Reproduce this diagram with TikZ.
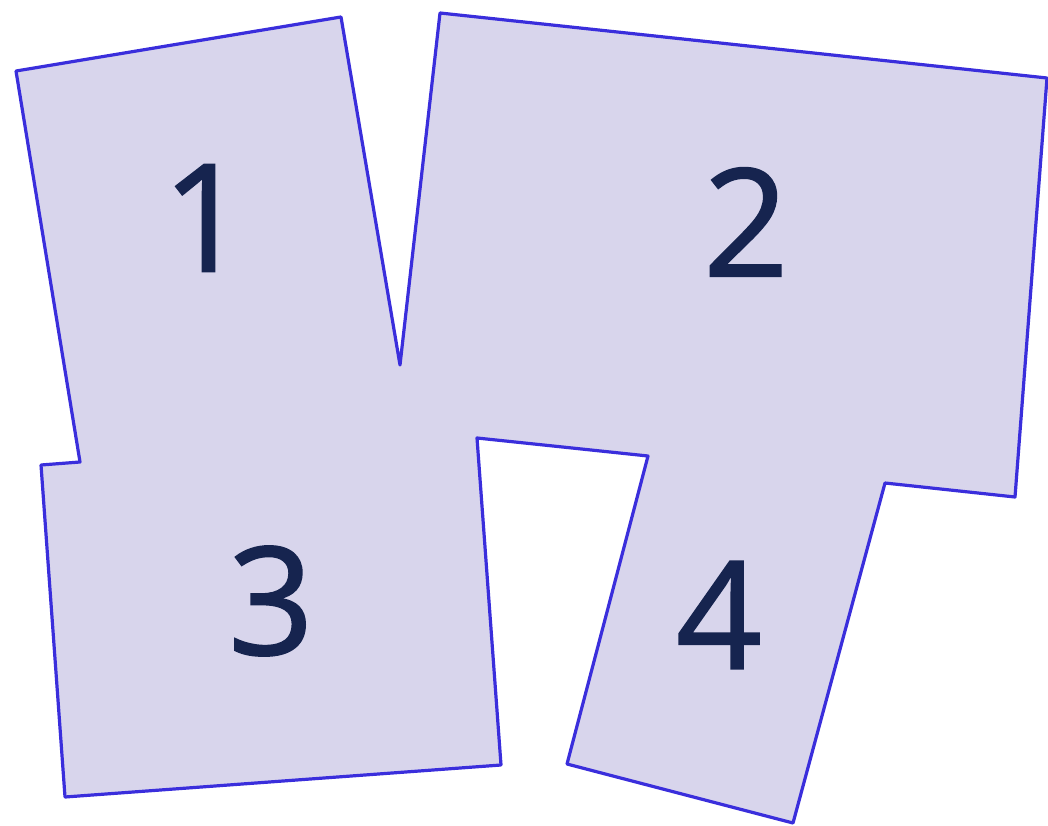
\documentclass[tikz,border=0pt]{standalone}
\usepackage{fontspec}
\setmainfont{Open Sans}
\newfontfamily\numfont{Open Sans}[FakeBold=1.2]
\definecolor{fillc}{HTML}{D8D5EC}
\definecolor{linec}{HTML}{3A2EDC}
\definecolor{numc}{HTML}{16244F}
\begin{document}
\begin{tikzpicture}[x=1pt,y=-1pt,
  region/.style={fill=fillc,draw=linec,line width=3.2pt,line join=round},
  num/.style={text=numc,font=\numfont\fontsize{150}{150}\selectfont,inner sep=0pt}]
\useasboundingbox (0,0) rectangle (1048,826);
\coordinate (p1) at (16,71);
\coordinate (p2) at (341,17);
\coordinate (p3) at (400,365);
\coordinate (p4) at (440,13);
\coordinate (p5) at (1047,78);
\coordinate (p6) at (1015,497);
\coordinate (p7) at (885,483);
\coordinate (p8) at (793,823);
\coordinate (p9) at (567,764);
\coordinate (p10) at (648,456);
\coordinate (p11) at (477,438);
\coordinate (p12) at (501,765);
\coordinate (p13) at (65,797);
\coordinate (p14) at (41,465);
\coordinate (p15) at (80,462);
\draw[region] (p1) -- (p2) -- (p3) -- (p4) -- (p5) -- (p6) -- (p7) -- (p8) -- (p9) -- (p10) -- (p11) -- (p12) -- (p13) -- (p14) -- (p15) -- cycle;
\node[num] (n1) at (205,218) {1};
\node[num] (n2) at (746,222) {2};
\node[num] (n3) at (271,601) {3};
\node[num] (n4) at (719,615) {4};
\end{tikzpicture}
\end{document}
